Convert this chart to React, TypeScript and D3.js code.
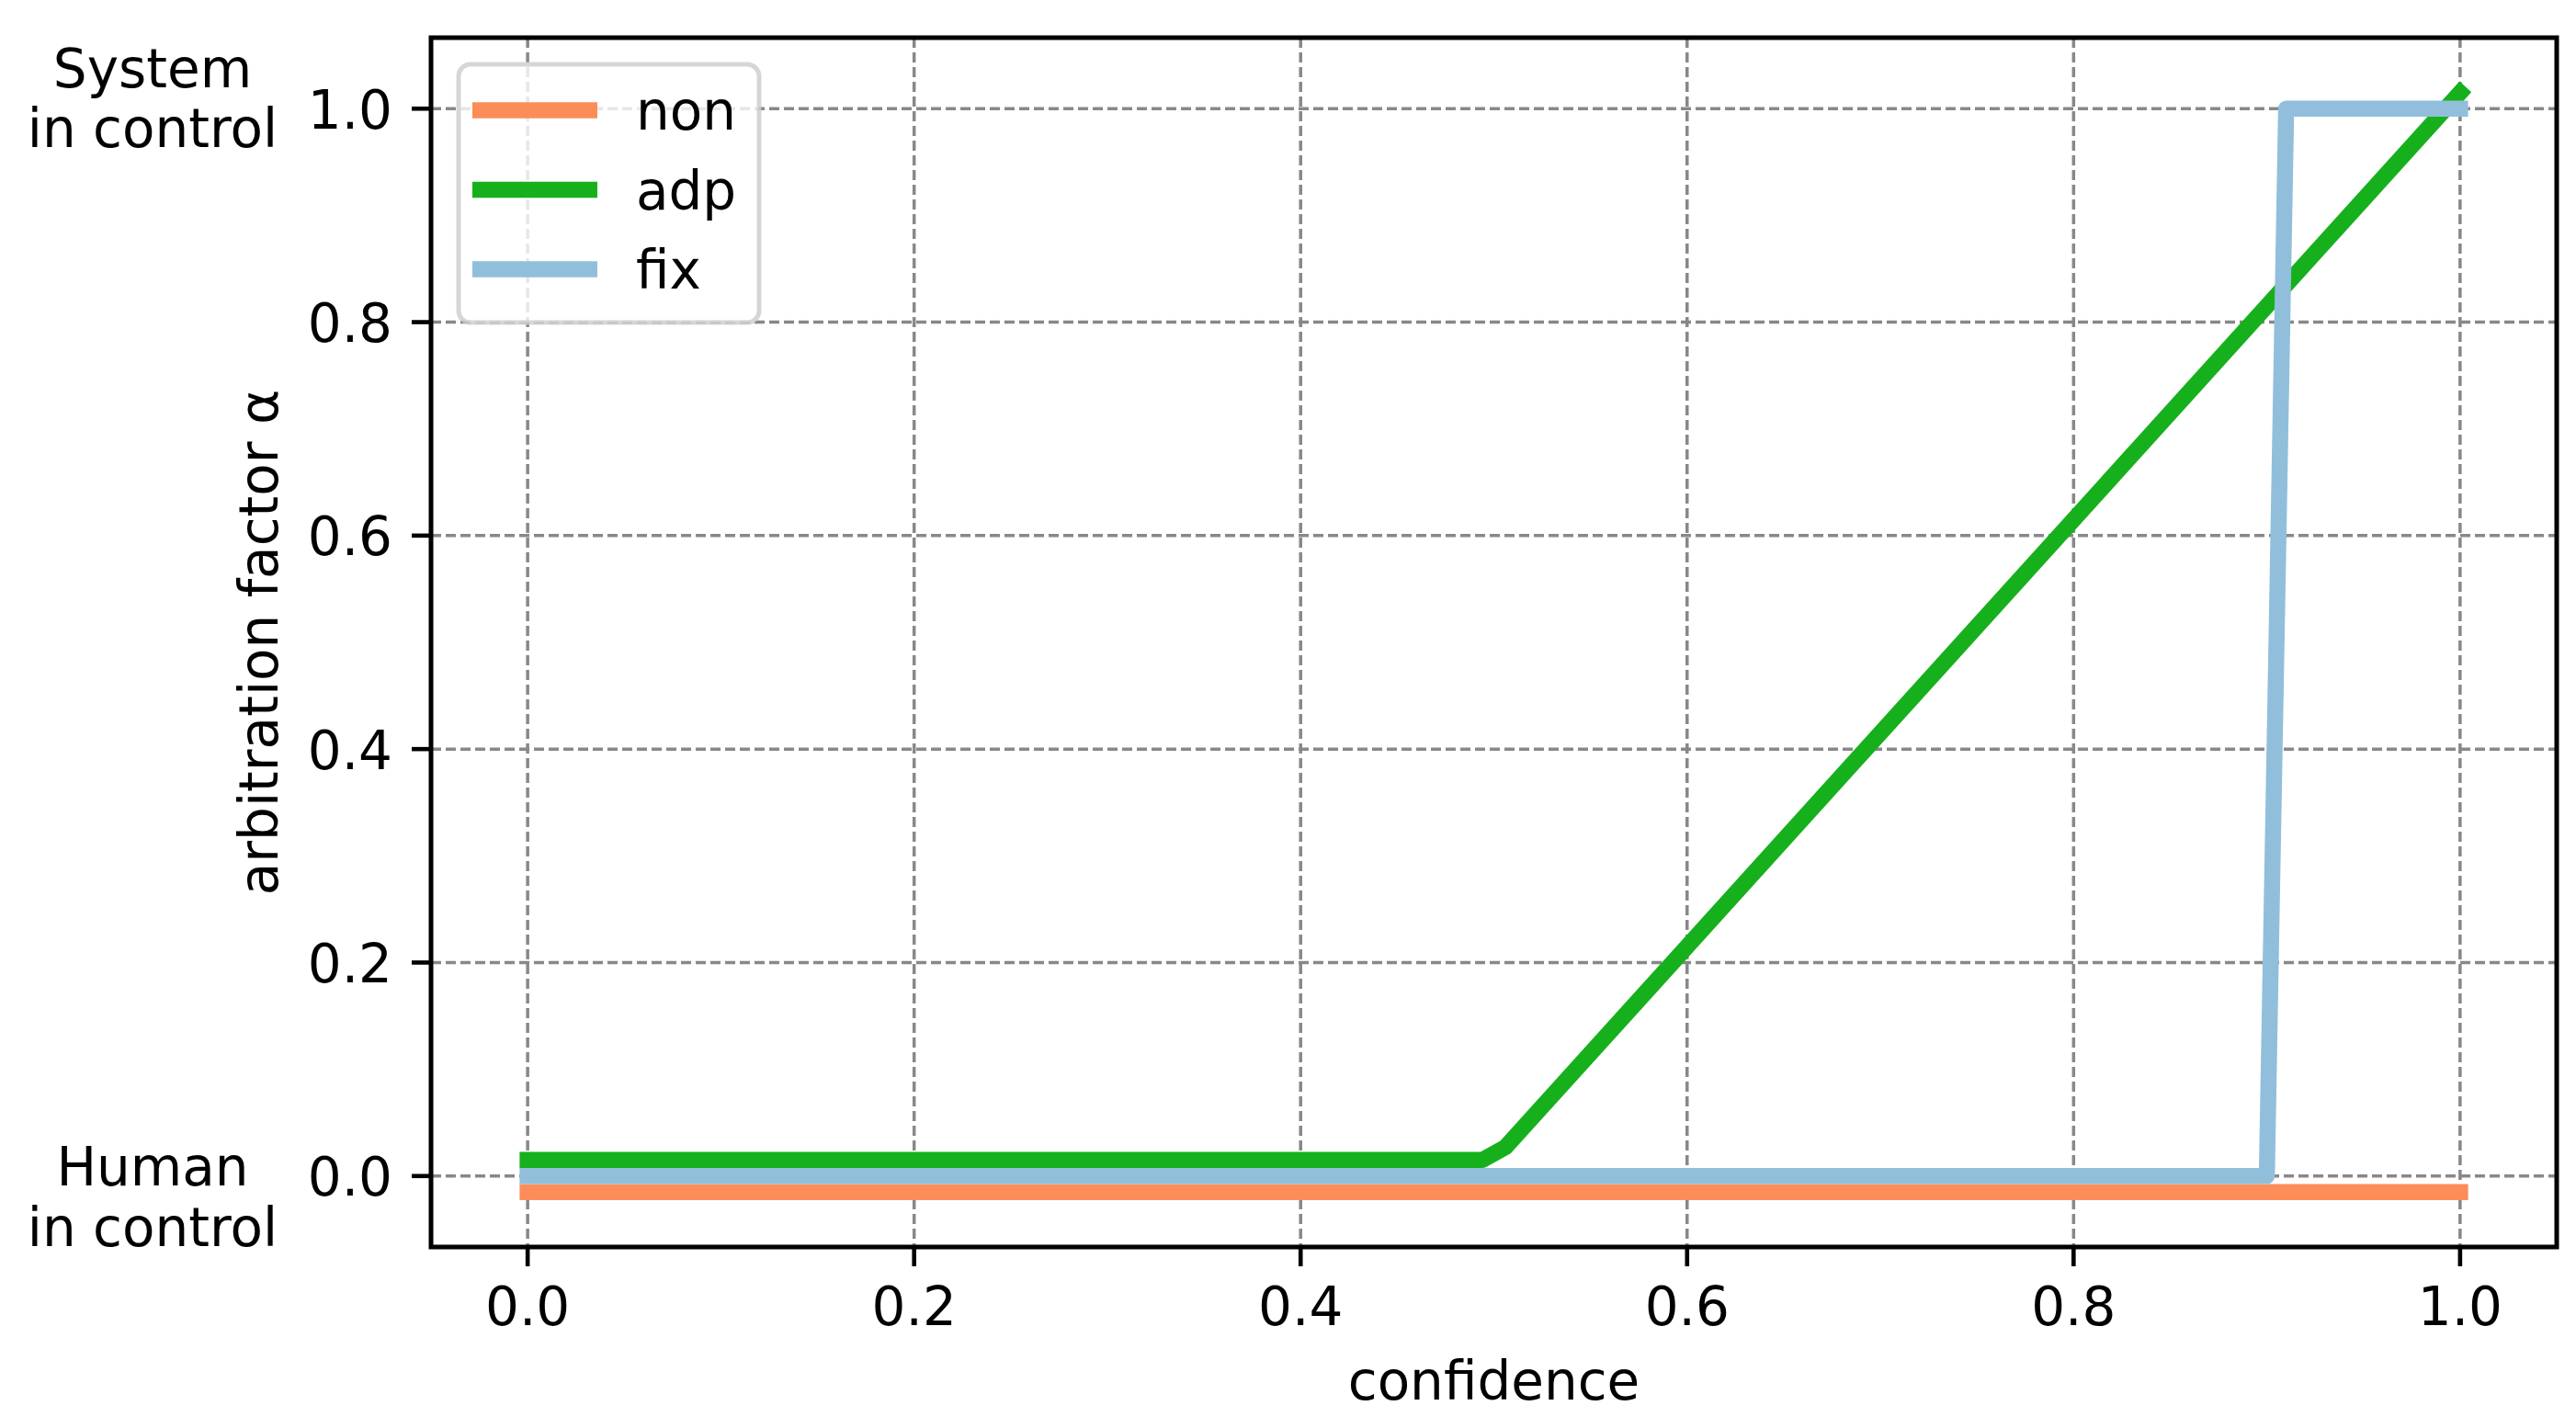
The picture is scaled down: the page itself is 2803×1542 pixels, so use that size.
import React from 'react';
import * as d3 from 'd3';

// series breakpoints
const nonX = [0, 1.0];
const nonY = [-0.015, -0.015];
const adpX = [0, 0.494, 0.506, 1.0];
const adpY = [0.015, 0.015, 0.027, 1.015];
const fixX = [0, 0.9, 0.91, 1.0];
const fixY = [0, 0, 1, 1];

const xTicks = [0, 0.2, 0.4, 0.6, 0.8, 1.0];
const yTicks = [0, 0.2, 0.4, 0.6, 0.8, 1.0];

const seriesNames = ['non', 'adp', 'fix'];
const colors = ['#fc8d59', '#17b01d', '#91bfdb'];

const W = 2803;
const H = 1542;
const FONT = 'DejaVu Sans, sans-serif';
const FS = 58;

export default function App() {
  const x = d3.scaleLinear().domain([-0.05, 1.05]).range([469, 2782]);
  const y = d3.scaleLinear().domain([-0.0665, 1.0665]).range([1357, 41]);

  const line = d3.line<[number, number]>().x(d => x(d[0])).y(d => y(d[1]));
  const zip = (xs: number[], ys: number[]) => xs.map((v, i) => [v, ys[i]] as [number, number]);
  const series = [zip(nonX, nonY), zip(adpX, adpY), zip(fixX, fixY)];

  const [x0, x1] = x.range();
  const [y0, y1] = y.range();
  const legX = 499, legY = 70;

  return (
    <svg width={W} height={H} style={{ position: 'absolute', left: 0, top: 0, background: '#fff' }}
      fontFamily={FONT} fontSize={FS}>
      <rect x={0} y={0} width={W} height={H} fill="#fff" />
      {/* grid */}
      <g stroke="#888" strokeWidth={3.5} strokeDasharray="11 5">
        {xTicks.map(t => <line key={'gx' + t} x1={x(t)} x2={x(t)} y1={y1} y2={y0} />)}
        {yTicks.map(t => <line key={'gy' + t} x1={x0} x2={x1} y1={y(t)} y2={y(t)} />)}
      </g>
      {/* lines */}
      {series.map((s, i) => (
        <path key={seriesNames[i]} d={line(s) || ''} fill="none" stroke={colors[i]}
          strokeWidth={17.5} strokeLinecap="square" strokeLinejoin="round" />
      ))}
      {/* legend */}
      <g>
        <rect x={legX} y={legY} width={327} height={281} rx={13} fill="#fff" fillOpacity={0.8}
          stroke="#cccccc" strokeOpacity={0.8} strokeWidth={5} />
        {seriesNames.map((n, i) => {
          const cy = 120 + i * 86.5;
          return (
            <g key={n}>
              <line x1={514} x2={650} y1={cy} y2={cy} stroke={colors[i]} strokeWidth={17.5} />
              <text x={692} y={cy + 21}>{n}</text>
            </g>
          );
        })}
      </g>
      {/* spines */}
      <rect x={x0} y={y1} width={x1 - x0} height={y0 - y1} fill="none" stroke="#000" strokeWidth={5} />
      {/* x ticks */}
      {xTicks.map(t => (
        <g key={'xt' + t}>
          <line x1={x(t)} x2={x(t)} y1={y0} y2={y0 + 21} stroke="#000" strokeWidth={4.6} />
          <text x={x(t)} y={1442} textAnchor="middle">{t.toFixed(1)}</text>
        </g>
      ))}
      {/* y ticks */}
      {yTicks.map(t => (
        <g key={'yt' + t}>
          <line x1={x0} x2={x0 - 21} y1={y(t)} y2={y(t)} stroke="#000" strokeWidth={4.6} />
          <text x={427} y={y(t) + 21.5} textAnchor="end">{t.toFixed(1)}</text>
        </g>
      ))}
      {/* side annotations */}
      <text textAnchor="middle">
        <tspan x={166} y={y(1) - 23}>System</tspan>
        <tspan x={166} y={y(1) + 42}>in control</tspan>
      </text>
      <text textAnchor="middle">
        <tspan x={166} y={y(0) + 10}>Human</tspan>
        <tspan x={166} y={y(0) + 76}>in control</tspan>
      </text>
      {/* axis labels */}
      <text x={(x0 + x1) / 2} y={1523} textAnchor="middle">confidence</text>
      <text transform={`translate(302,${(y0 + y1) / 2}) rotate(-90)`} textAnchor="middle">arbitration factor α</text>
    </svg>
  );
}
